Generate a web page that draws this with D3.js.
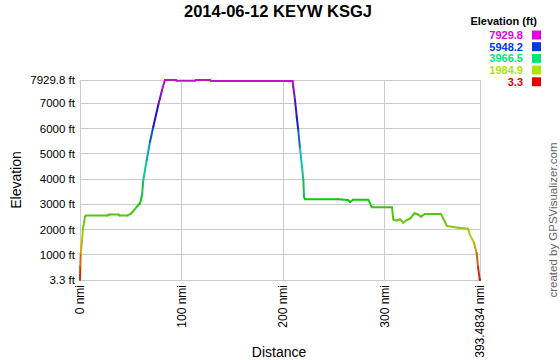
<!DOCTYPE html>
<html><head><meta charset="utf-8">
<script src="https://cdn.jsdelivr.net/npm/d3@7"></script>
<style>body{margin:0;background:#fff}svg{display:block;font-family:"Liberation Sans",Arial,sans-serif}</style>
</head><body><svg id="c" width="560" height="360"></svg>
<script>
const title = "2014-06-12 KEYW KSGJ";
const distance = [0,0.3,0.7,2.0,3.0,4.9,5.9,27,29,38,39,47,50.5,57,59,61,62.3,65.6,68.9,72.1,77.0,80.7,83.6,94.4,95.1,113,114,128,129,209.2,209.8,211.5,213.2,214.7,216.4,218.4,219.7,220.4,221.3,253.8,263.6,265.6,268.6,283.6,287.0,306.9,308.2,311.5,314.8,318.0,321.4,324.6,328.9,332.5,335.4,339.4,355.1,361.0,372.1,381.7,383.6,387.6,390.2,391.5,393.2,393.4834];
const elevation = [3.3,530,1061,1589,2052,2512,2560,2560,2600,2600,2560,2560,2640,2960,3040,3360,3967,4759,5484,6079,6939,7533,7929.8,7929.8,7900,7900,7929.8,7929.8,7890,7890,7664,7137,6476,5948,5223,4494,3967,3305,3201,3201,3174,3095,3186,3186,2890,2890,2400,2360,2410,2274,2381,2430,2647,2600,2512,2621,2621,2144,2076,2036,1787,1482,1061,530,31,3.3];
const yTicks = [3.3,1000,2000,3000,4000,5000,6000,7000,7929.8];
const xTicks = [0,100,200,300,393.4834];
const legendValues = [7929.8,5948.2,3966.5,1984.9,3.3];

const svg = d3.select("#c");
const L=80,R=480,T=80,B=280;
const x = d3.scaleLinear().domain([0,393.4834]).range([L,R]);
const y = d3.scaleLinear().domain([3.3,7929.8]).range([B,T]);
const hue = d3.scaleLinear().domain([3.3,7929.8]).range([0,300]);
const col = v => d3.hsl(hue(v),1,0.45).formatHex();
const lineCol = v => d3.hsl(hue(v),0.85,0.42).formatHex();

// title
svg.append("text").attr("x",278).attr("y",17).attr("text-anchor","middle")
  .attr("font-size",16.5).attr("font-weight","bold").text(title);

// grid
const g = svg.append("g");
g.selectAll(".hy").data(yTicks).join("line")
  .attr("x1",L).attr("x2",R).attr("y1",d=>y(d)).attr("y2",d=>y(d))
  .attr("stroke","#cccccc").attr("stroke-width",1).attr("shape-rendering","crispEdges");
g.selectAll(".vx").data(xTicks).join("line")
  .attr("y1",T).attr("y2",B).attr("x1",d=>x(d)).attr("x2",d=>x(d))
  .attr("stroke","#cccccc").attr("stroke-width",1).attr("shape-rendering","crispEdges");

// y labels
g.selectAll(".yl").data(yTicks).join("text")
  .attr("x",75).attr("y",d=>y(d)+4).attr("text-anchor","end")
  .attr("font-size",11.5).attr("fill","#000")
  .text(d=>d+" ft");

// x labels
g.selectAll(".xl").data(xTicks).join("text")
  .attr("transform",d=>`translate(${x(d)+4},285) rotate(-90)`)
  .attr("text-anchor","end").attr("font-size",12).attr("fill","#000")
  .text(d=>d+" nmi");

// axis titles
svg.append("text").attr("transform","translate(21,180) rotate(-90)")
  .attr("text-anchor","middle").attr("font-size",14).text("Elevation");
svg.append("text").attr("x",279).attr("y",357).attr("text-anchor","middle")
  .attr("font-size",14).text("Distance");

// credit
svg.append("text").attr("transform","translate(557,220) rotate(-90)")
  .attr("text-anchor","middle").attr("font-size",11.5).attr("fill","#666")
  .text("created by GPSVisualizer.com");

// line as coloured segments
const pts = distance.map((d,i)=>({d, e:elevation[i]}));
const segs = d3.pairs(pts);
svg.append("g").selectAll("line").data(segs).join("line")
  .attr("x1",p=>x(p[0].d)).attr("y1",p=>y(p[0].e))
  .attr("x2",p=>x(p[1].d)).attr("y2",p=>y(p[1].e))
  .attr("stroke",p=>lineCol((p[0].e+p[1].e)/2))
  .attr("stroke-width",2).attr("stroke-linecap","round");

// legend
svg.append("text").attr("x",537).attr("y",25).attr("text-anchor","end")
  .attr("font-size",11).attr("font-weight","bold").text("Elevation (ft)");
const lg = svg.append("g");
lg.selectAll("text").data(legendValues).join("text")
  .attr("x",523).attr("y",(d,i)=>39+i*11.7).attr("text-anchor","end")
  .attr("font-size",11).attr("font-weight","bold").attr("fill",d=>col(d))
  .text(d=>d);
lg.selectAll("rect").data(legendValues).join("rect")
  .attr("x",532).attr("y",(d,i)=>30.5+i*11.7).attr("width",9).attr("height",9)
  .attr("fill",d=>col(d));
</script></body></html>
